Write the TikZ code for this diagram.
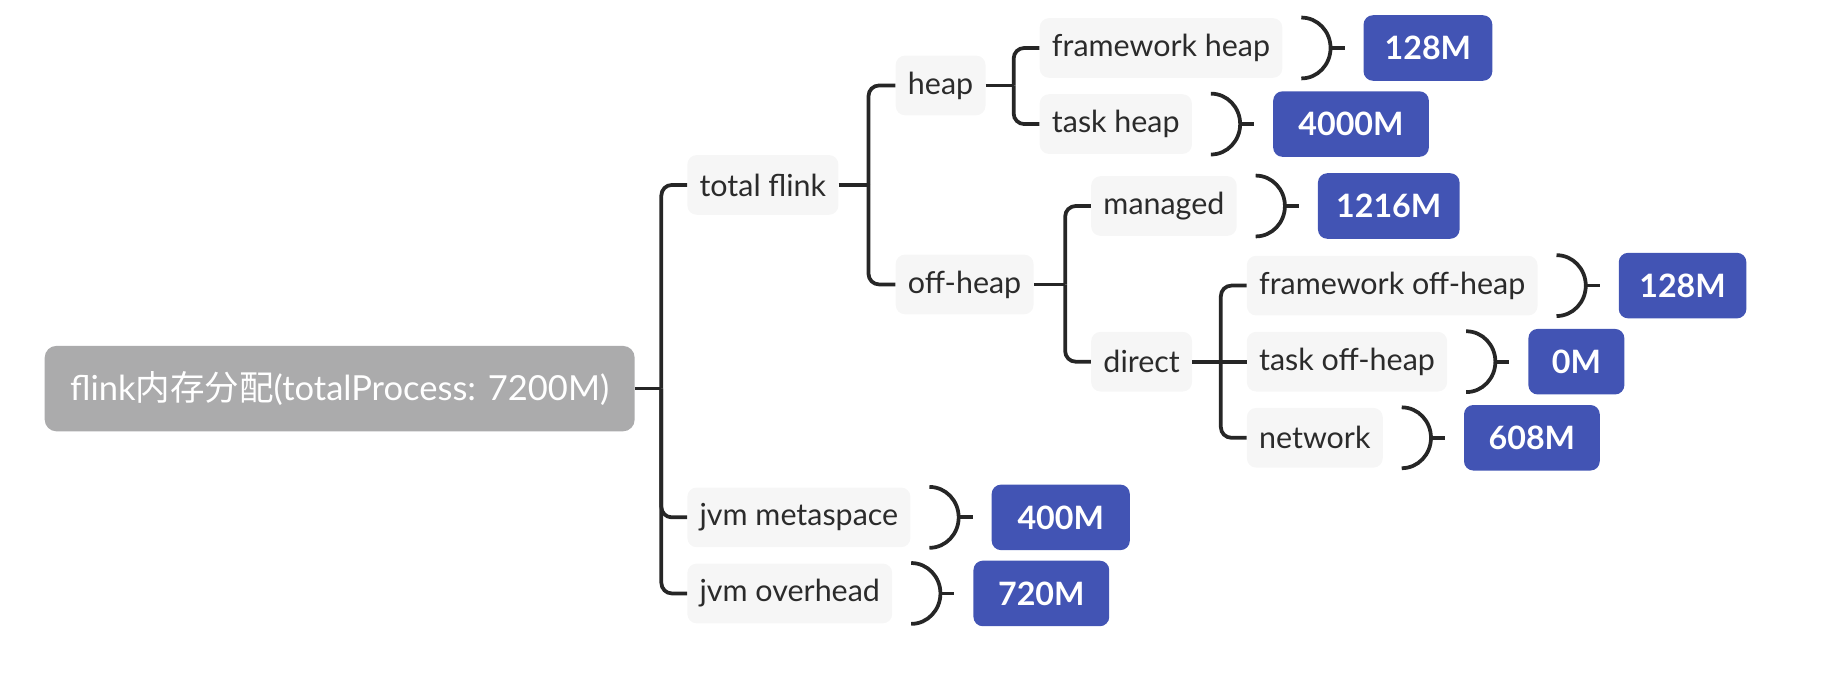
\documentclass[tikz,border=0pt]{standalone}
\usepackage{fontspec}
\setmainfont{Lato}
\newfontfamily\cjk{Noto Sans CJK SC}
\usetikzlibrary{calc}
\definecolor{rootgray}{HTML}{ABABAC}
\definecolor{lvlfill}{HTML}{F6F6F6}
\definecolor{valblue}{HTML}{4254B4}
\definecolor{linecol}{HTML}{262626}
\definecolor{txtcol}{HTML}{2B2B2B}
\tikzset{
  rootbox/.style={fill=rootgray, rounded corners=10pt, text=white, anchor=west,
    minimum height=73pt, inner sep=0pt, font=\fontsize{29.5}{34}\selectfont},
  lvl/.style={fill=lvlfill, rounded corners=8pt, text=txtcol, anchor=west,
    minimum height=51pt, inner ysep=0pt, inner xsep=10.5pt,
    font=\fontsize{26}{31}\selectfont},
  val/.style={fill=valblue, rounded corners=8pt, text=white, anchor=west,
    minimum height=56pt, inner sep=0pt, font=\fontsize{27.5}{32}\selectfont\bfseries},
  conn/.style={draw=linecol, line width=3.2pt},
  elbow/.style={conn, rounded corners=9pt}
}
\begin{document}
\begin{tikzpicture}[x=1pt, y=-1pt]
\useasboundingbox (0,0) rectangle (1560,591);
% root
\node[rootbox, minimum width=504pt] (root) at (38,332) {flink{\cjk 内存分配}(totalProcess: 7200M)};
% level nodes
\node[lvl] (tf) at (587,158) {total flink};
\node[lvl] (jm) at (587,442) {jvm metaspace};
\node[lvl] (jo) at (587,507) {jvm overhead};
\node[lvl] (hp) at (765,73)  {heap};
\node[lvl] (oh) at (765,243) {off-heap};
\node[lvl] (fh) at (888,41)  {framework heap};
\node[lvl] (th) at (888,106) {task heap};
\node[lvl] (mg) at (932,176) {managed};
\node[lvl] (dr) at (932,309) {direct};
\node[lvl] (fo) at (1065,244) {framework off-heap};
\node[lvl] (to) at (1065,309) {task off-heap};
\node[lvl] (nw) at (1065,374) {network};
% values
\foreach \leaf/\v/\w/\t in {fh/vfh/110/128M, th/vth/133/4000M, mg/vmg/121/1216M,
    fo/vfo/109/128M, to/vto/82/0M, nw/vnw/116/608M, jm/vjm/118/400M, jo/vjo/116/720M}{
  \node[val, minimum width=\w pt] (\v) at ($(\leaf.east)+(69,0)$) {\t};
  \draw[conn] ($(\leaf.east)+(16,-26)$) to[out=0,in=90] ($(\leaf.east)+(41,0)$)
      to[out=-90,in=0] ($(\leaf.east)+(16,26)$);
  \draw[conn] ($(\leaf.east)+(41,0)$) -- ($(\v.west)+(-16,0)$);
}
% tree connectors
\coordinate (j1) at (565,332);
\draw[conn] (root.east) -- (j1);
\foreach \c in {tf,jm,jo} \draw[elbow] (j1) |- (\c.west);
\coordinate (j2) at (742,158);
\draw[conn] (tf.east) -- (j2);
\foreach \c in {hp,oh} \draw[elbow] (j2) |- (\c.west);
\coordinate (j3) at (866,73);
\draw[conn] (hp.east) -- (j3);
\foreach \c in {fh,th} \draw[elbow] (j3) |- (\c.west);
\coordinate (j4) at (910,243);
\draw[conn] (oh.east) -- (j4);
\foreach \c in {mg,dr} \draw[elbow] (j4) |- (\c.west);
\coordinate (j5) at (1043,309);
\draw[conn] (dr.east) -- (to.west);
\foreach \c in {fo,nw} \draw[elbow] (j5) |- (\c.west);
\end{tikzpicture}
\end{document}
